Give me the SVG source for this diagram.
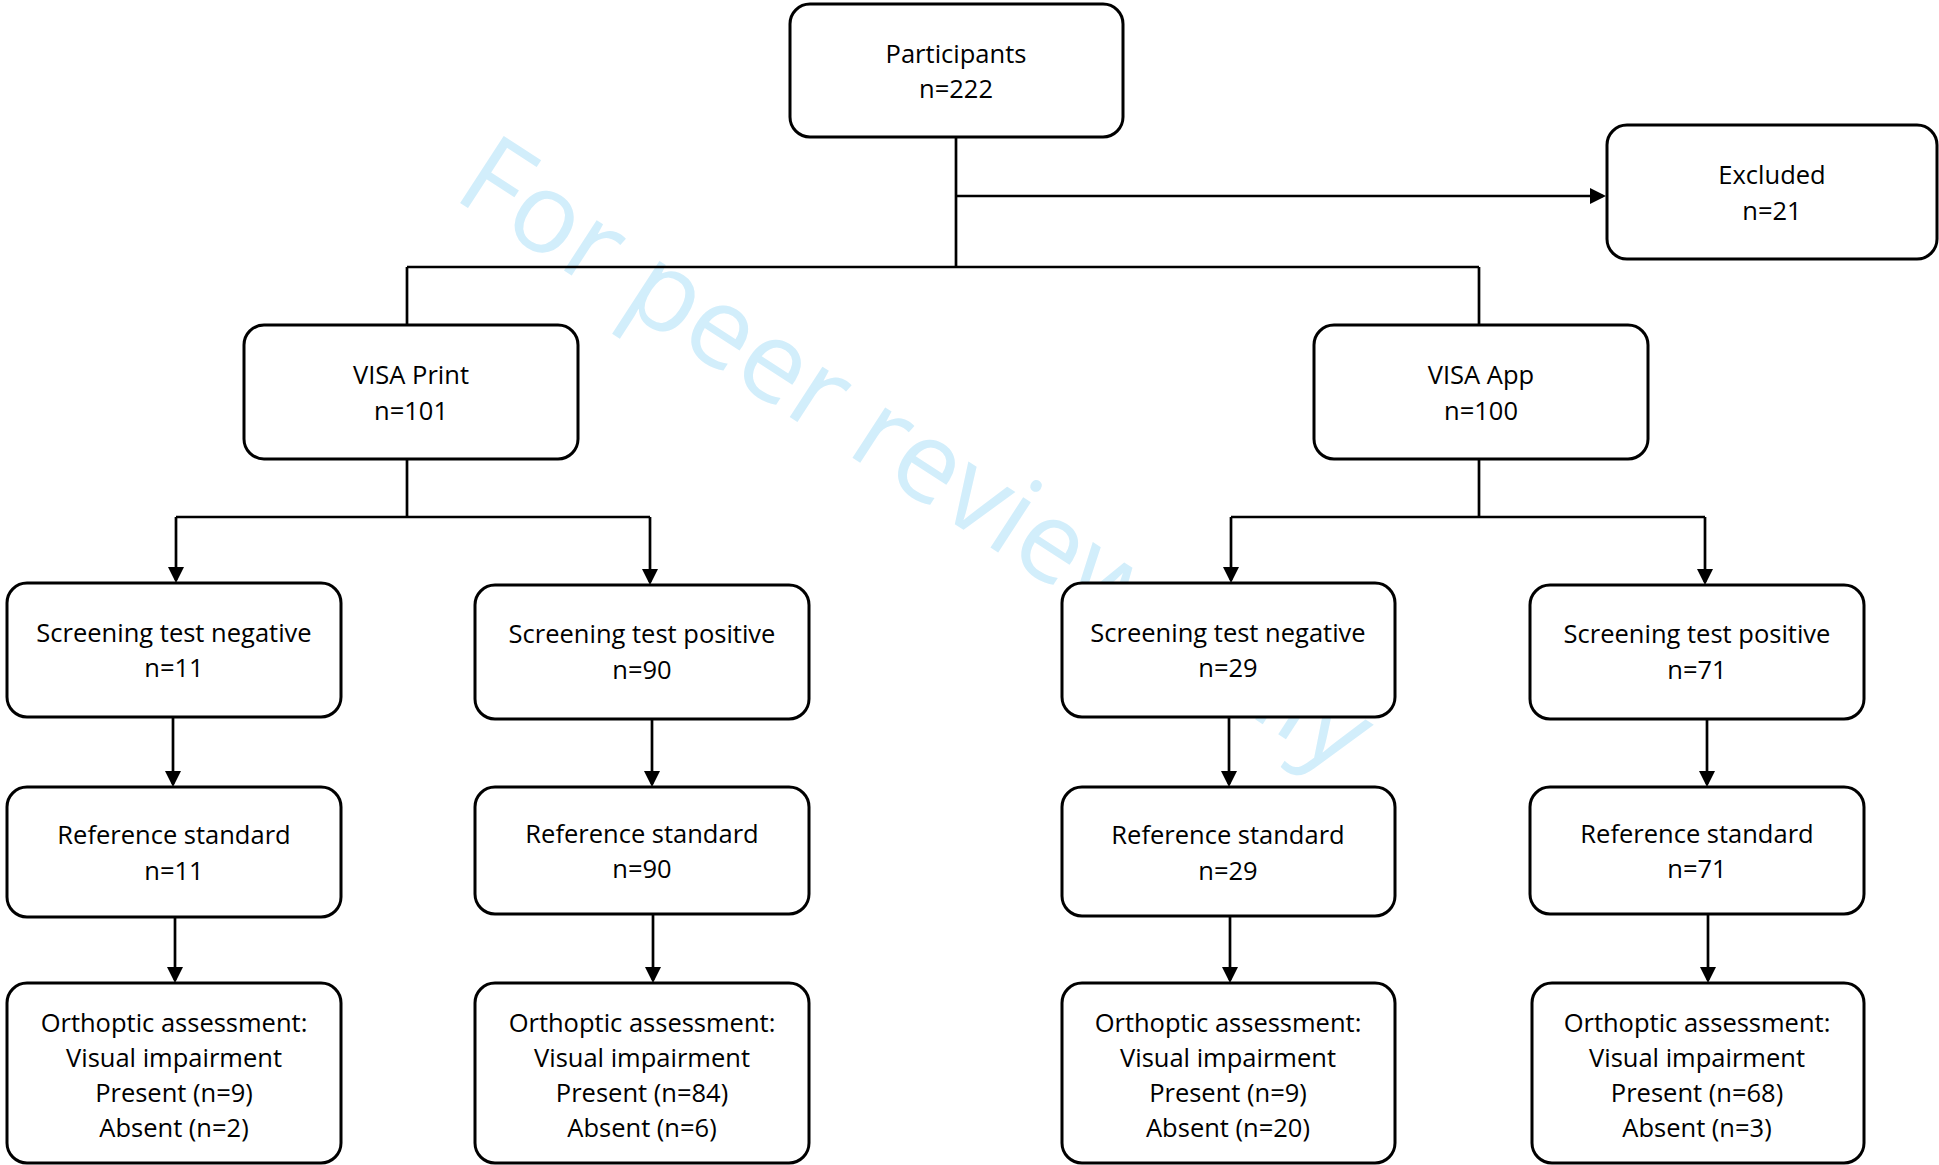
<svg xmlns="http://www.w3.org/2000/svg" width="1939" height="1165" viewBox="0 0 1939 1165">
<style>
.box{fill:#fff;stroke:#000;stroke-width:3}
.t{font-family:"Open Sans","Liberation Sans",sans-serif;font-size:25.5px;fill:#000;text-anchor:middle}
.c{fill:none;stroke:#000;stroke-width:2.7}
.a{fill:none;stroke:#000;stroke-width:2.7;marker-end:url(#ah)}
.wm{font-family:"Open Sans","Liberation Sans",sans-serif;font-size:112px;fill:#d2eefb}
</style>
<defs>
<marker id="ah" markerUnits="userSpaceOnUse" markerWidth="16" markerHeight="16" refX="13" refY="8" orient="auto">
<path d="M0,0 L16,8 L0,16 z" fill="#000"/>
</marker>
</defs>
<rect width="1939" height="1165" fill="#fff"/>
<text class="wm" transform="translate(451,197) rotate(33)">For peer review only</text>
<g id="connectors">
<path class="c" d="M956 137 V267"/>
<path class="a" d="M956 196 H1603"/>
<path class="c" d="M407 267 H1479"/>
<path class="c" d="M407 267 V325"/>
<path class="c" d="M1479 267 V325"/>
<path class="c" d="M407 459 V517"/>
<path class="c" d="M176 517 H650"/>
<path class="a" d="M176 517 V580"/>
<path class="a" d="M650 517 V582"/>
<path class="a" d="M173 717 V784"/>
<path class="a" d="M652 719 V784"/>
<path class="a" d="M175 917 V980"/>
<path class="a" d="M653 914 V980"/>
<path class="c" d="M1479 459 V517"/>
<path class="c" d="M1231 517 H1705"/>
<path class="a" d="M1231 517 V580"/>
<path class="a" d="M1705 517 V582"/>
<path class="a" d="M1229 717 V784"/>
<path class="a" d="M1707 719 V784"/>
<path class="a" d="M1230 916 V980"/>
<path class="a" d="M1708 914 V980"/>
</g>
<g id="participants">
<rect class="box" x="790" y="4" width="333" height="133" rx="20"/>
<text class="t" x="956" y="63">Participants</text>
<text class="t" x="956" y="98">n=222</text>
</g>
<g id="excluded">
<rect class="box" x="1607" y="125" width="330" height="134" rx="20"/>
<text class="t" x="1772" y="184">Excluded</text>
<text class="t" x="1772" y="220">n=21</text>
</g>
<g id="visa-print">
<rect class="box" x="244" y="325" width="334" height="134" rx="20"/>
<text class="t" x="411" y="384">VISA Print</text>
<text class="t" x="411" y="420">n=101</text>
</g>
<g id="visa-app">
<rect class="box" x="1314" y="325" width="334" height="134" rx="20"/>
<text class="t" x="1481" y="384">VISA App</text>
<text class="t" x="1481" y="420">n=100</text>
</g>
<g id="print-neg">
<rect class="box" x="7" y="583" width="334" height="134" rx="20"/>
<text class="t" x="174" y="642">Screening test negative</text>
<text class="t" x="174" y="677">n=11</text>
</g>
<g id="print-pos">
<rect class="box" x="475" y="585" width="334" height="134" rx="20"/>
<text class="t" x="642" y="643">Screening test positive</text>
<text class="t" x="642" y="679">n=90</text>
</g>
<g id="app-neg">
<rect class="box" x="1062" y="583" width="333" height="134" rx="20"/>
<text class="t" x="1228" y="642">Screening test negative</text>
<text class="t" x="1228" y="677">n=29</text>
</g>
<g id="app-pos">
<rect class="box" x="1530" y="585" width="334" height="134" rx="20"/>
<text class="t" x="1697" y="643">Screening test positive</text>
<text class="t" x="1697" y="679">n=71</text>
</g>
<g id="print-neg-ref">
<rect class="box" x="7" y="787" width="334" height="130" rx="20"/>
<text class="t" x="174" y="844">Reference standard</text>
<text class="t" x="174" y="880">n=11</text>
</g>
<g id="print-pos-ref">
<rect class="box" x="475" y="787" width="334" height="127" rx="20"/>
<text class="t" x="642" y="843">Reference standard</text>
<text class="t" x="642" y="878">n=90</text>
</g>
<g id="app-neg-ref">
<rect class="box" x="1062" y="787" width="333" height="129" rx="20"/>
<text class="t" x="1228" y="844">Reference standard</text>
<text class="t" x="1228" y="880">n=29</text>
</g>
<g id="app-pos-ref">
<rect class="box" x="1530" y="787" width="334" height="127" rx="20"/>
<text class="t" x="1697" y="843">Reference standard</text>
<text class="t" x="1697" y="878">n=71</text>
</g>
<g id="print-neg-orth">
<rect class="box" x="7" y="983" width="334" height="180" rx="20"/>
<text class="t" x="174" y="1032">Orthoptic assessment:</text>
<text class="t" x="174" y="1067">Visual impairment</text>
<text class="t" x="174" y="1102">Present (n=9)</text>
<text class="t" x="174" y="1137">Absent (n=2)</text>
</g>
<g id="print-pos-orth">
<rect class="box" x="475" y="983" width="334" height="180" rx="20"/>
<text class="t" x="642" y="1032">Orthoptic assessment:</text>
<text class="t" x="642" y="1067">Visual impairment</text>
<text class="t" x="642" y="1102">Present (n=84)</text>
<text class="t" x="642" y="1137">Absent (n=6)</text>
</g>
<g id="app-neg-orth">
<rect class="box" x="1062" y="983" width="333" height="180" rx="20"/>
<text class="t" x="1228" y="1032">Orthoptic assessment:</text>
<text class="t" x="1228" y="1067">Visual impairment</text>
<text class="t" x="1228" y="1102">Present (n=9)</text>
<text class="t" x="1228" y="1137">Absent (n=20)</text>
</g>
<g id="app-pos-orth">
<rect class="box" x="1532" y="983" width="332" height="180" rx="20"/>
<text class="t" x="1697" y="1032">Orthoptic assessment:</text>
<text class="t" x="1697" y="1067">Visual impairment</text>
<text class="t" x="1697" y="1102">Present (n=68)</text>
<text class="t" x="1697" y="1137">Absent (n=3)</text>
</g>
</svg>
